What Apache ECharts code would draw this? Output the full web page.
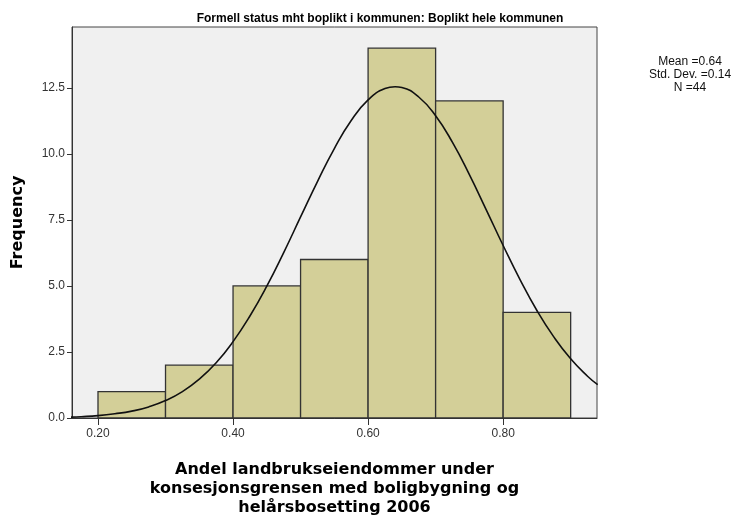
<!DOCTYPE html>
<html>
<head>
<meta charset="utf-8">
<script src="https://cdn.jsdelivr.net/npm/echarts@6/dist/echarts.min.js"></script>
<style>
  html, body { margin: 0; padding: 0; background: #fff; }
  #chart { width: 742px; height: 517px; }
</style>
</head>
<body>
<div id="chart"></div>
<script>
// histogram bins (lower edge, upper edge) and counts
var binStart = [0.2, 0.3, 0.4, 0.5, 0.6, 0.7, 0.8];
var binEnd = [0.3, 0.4, 0.5, 0.6, 0.7, 0.8, 0.9];
var counts = [1, 2, 5, 6, 14, 12, 4];

// normal curve
var curveX = [0.16, 0.175, 0.20, 0.225, 0.25, 0.275, 0.30, 0.325, 0.35, 0.375, 0.40, 0.425, 0.45, 0.475,
    0.50, 0.525, 0.55, 0.575, 0.60, 0.625, 0.64, 0.65, 0.675, 0.70, 0.725, 0.75, 0.775, 0.80, 0.825,
    0.85, 0.875, 0.90, 0.925, 0.94];
var curveY = [0.035, 0.05, 0.09, 0.16, 0.26, 0.42, 0.66, 1.0, 1.47, 2.09, 2.89, 3.86, 4.99, 6.26,
    7.61, 8.95, 10.2, 11.26, 12.04, 12.47, 12.54, 12.51, 12.15, 11.44, 10.43, 9.21, 7.88, 6.53, 5.24,
    4.07, 3.07, 2.24, 1.58, 1.26];

var xTicks = [0.2, 0.4, 0.6, 0.8];
var statLines = ['Mean =0.64', 'Std. Dev. =0.14', 'N =44'];

var barData = counts.map(function (c, i) {
    return [binStart[i], binEnd[i], c];
});
var lineData = curveX.map(function (x, i) {
    return [x, curveY[i]];
});

var chart = echarts.init(document.getElementById('chart'));

var option = {
    backgroundColor: '#ffffff',
    animation: false,
    title: {
        text: 'Formell status mht boplikt i kommunen: Boplikt hele kommunen',
        left: 375,
        textAlign: 'center',
        top: 8,
        textStyle: {
            fontFamily: 'Liberation Sans',
            fontSize: 12,
            fontWeight: 'bold',
            color: '#000'
        }
    },
    graphic: [{
        type: 'text',
        x: 690,
        y: 55,
        style: {
            text: statLines.join('\n'),
            font: '12px "Liberation Sans"',
            fill: '#111',
            align: 'center',
            lineHeight: 13
        }
    }],
    grid: {
        left: 72,
        top: 27,
        right: 145,
        bottom: 99,
        outerBoundsMode: 'none',
        show: true,
        backgroundColor: '#f0f0f0',
        borderColor: '#444',
        borderWidth: 1
    },
    xAxis: {
        type: 'value',
        min: 0.1615,
        max: 0.939,
        name: 'Andel landbrukseiendommer under\nkonsesjonsgrensen med boligbygning og\nhelårsbosetting 2006',
        nameLocation: 'middle',
        nameGap: 42,
        nameTextStyle: {
            fontFamily: 'DejaVu Sans',
            fontSize: 16,
            fontWeight: 'bold',
            color: '#000',
            lineHeight: 19,
            verticalAlign: 'top'
        },
        splitLine: { show: false },
        axisLine: { onZero: false, lineStyle: { color: '#333' } },
        axisTick: {
            show: true,
            length: 7,
            customValues: xTicks,
            lineStyle: { color: '#333' }
        },
        axisLabel: {
            customValues: xTicks,
            margin: 10,
            fontFamily: 'Liberation Sans',
            fontSize: 12,
            color: '#333',
            formatter: function (v) { return v.toFixed(2); }
        }
    },
    yAxis: {
        type: 'value',
        min: 0,
        max: 14.8,
        interval: 2.5,
        name: 'Frequency',
        nameLocation: 'middle',
        nameGap: 46,
        nameTextStyle: {
            fontFamily: 'DejaVu Sans',
            fontSize: 16,
            fontWeight: 'bold',
            color: '#000'
        },
        splitLine: { show: false },
        axisLine: { show: true, lineStyle: { color: '#333' } },
        axisTick: { show: true, length: 5, lineStyle: { color: '#333' } },
        axisLabel: {
            showMaxLabel: false,
            margin: 7,
            fontFamily: 'Liberation Sans',
            fontSize: 12,
            color: '#333',
            formatter: function (v) { return v.toFixed(1); }
        }
    },
    series: [{
        type: 'custom',
        data: barData,
        renderItem: function (params, api) {
            var p0 = api.coord([api.value(0), api.value(2)]);
            var p1 = api.coord([api.value(1), 0]);
            return {
                type: 'rect',
                shape: { x: p0[0], y: p0[1], width: p1[0] - p0[0], height: p1[1] - p0[1] },
                style: { fill: '#d3cf98', stroke: '#333', lineWidth: 1.3 }
            };
        },
        z: 2
    }, {
        type: 'line',
        data: lineData,
        smooth: true,
        showSymbol: false,
        lineStyle: { color: '#111', width: 1.6 },
        z: 3
    }]
};

chart.setOption(option);
</script>
</body>
</html>
